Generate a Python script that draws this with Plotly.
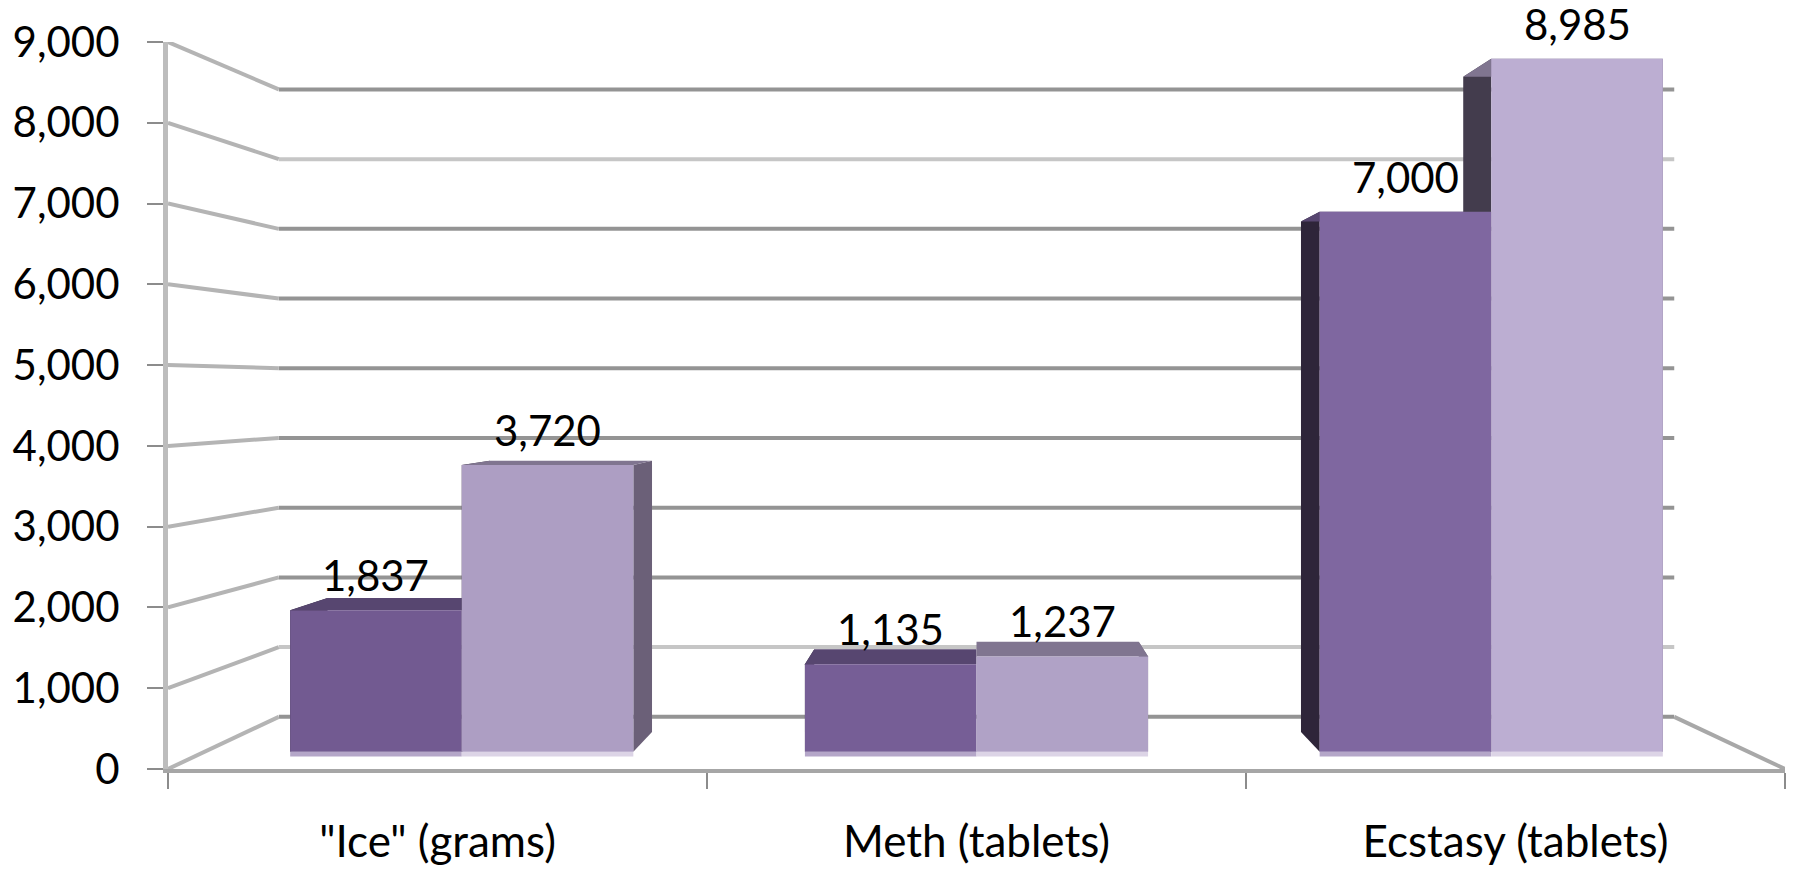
import plotly.graph_objects as go

# ---------------- data ----------------
CATEGORIES = ['"Ice" (grams)', 'Meth (tablets)', 'Ecstasy (tablets)']
SERIES_A = [1837, 1135, 7000]
SERIES_B = [3720, 1237, 8985]
Y_TICKS = [0, 1000, 2000, 3000, 4000, 5000, 6000, 7000, 8000, 9000]
Y_MAX = 9000

# ---------------- styling ----------------
FONT = "Lato"
FONT_SIZE = 42
CAT_FONT_SIZE = 44
COLORS_A = ["#725a91", "#765e96", "#7f67a0"]
COLORS_B = ["#ad9ec3", "#b0a2c6", "#bcaed2"]
BASE_STRIP = ["#b4a6c8", "#dcd4e6"]
TOP_FACE = ["#574670", "#807590"]
LEFT_FACE = ["#2e2539", "#433c4d"]
RIGHT_FACE = ["#4e4160", "#6b6078"]
GRID_DARK = "#949494"
GRID_LIGHT = "#c6c6c6"
LIGHT_GRID_VALUES = {1000, 8000}

# perspective model (front plane = main axes)
VP_X, VP_V = 1.0, 4715      # vanishing point in front-axis units
K_BAR_FRONT = 0.955         # bar front faces
K_BAR_BACK = 0.903          # bar back faces
K_WALL = 0.863              # back wall
BAR_GAP = 1 / 3
N_SERIES = 2
BAR_W = (1 - BAR_GAP) / N_SERIES
STRIP_DEPTH = 60            # light base strip under the bars (value units)


def toward_vp(x, v, k):
    return VP_X + k * (x - VP_X), VP_V + k * (v - VP_V)


X_RANGE = [-0.5, len(CATEGORIES) - 0.5]
Y_RANGE = [0, Y_MAX]
BAR_X_RANGE = [VP_X + (r - VP_X) / K_BAR_FRONT for r in X_RANGE]
BAR_Y_RANGE = [VP_V + (r - VP_V) / K_BAR_FRONT for r in Y_RANGE]

shapes = []
# back wall gridlines and left wall connectors
for v in Y_TICKS:
    col = GRID_LIGHT if v in LIGHT_GRID_VALUES else GRID_DARK
    wl = toward_vp(X_RANGE[0], v, K_WALL)
    wr = toward_vp(X_RANGE[1], v, K_WALL)
    shapes.append(dict(type="line", xref="x", yref="y", x0=wl[0], y0=wl[1],
                       x1=wr[0], y1=wr[1], line=dict(color=col, width=4),
                       layer="below"))
    shapes.append(dict(type="line", xref="x", yref="y", x0=X_RANGE[0], y0=v,
                       x1=wl[0], y1=wl[1], line=dict(color="#b4b4b4", width=4),
                       layer="below"))
# floor right edge
fr = toward_vp(X_RANGE[1], 0, K_WALL)
shapes.append(dict(type="line", xref="x", yref="y", x0=X_RANGE[1], y0=0,
                   x1=fr[0], y1=fr[1], line=dict(color="#a8a8a8", width=4),
                   layer="below"))


def poly(pts):
    return "M " + " L ".join(f"{x},{y}" for x, y in pts) + " Z"


annotations = []
# 3D faces of the bars + value labels
for s, values in enumerate([SERIES_A, SERIES_B]):
    for i, v in enumerate(values):
        bx0 = i - BAR_W + s * BAR_W
        bx1 = bx0 + BAR_W
        fl0 = toward_vp(bx0, 0, K_BAR_FRONT)
        fl1 = toward_vp(bx0, v, K_BAR_FRONT)
        fr1 = toward_vp(bx1, v, K_BAR_FRONT)
        fr0 = toward_vp(bx1, 0, K_BAR_FRONT)
        bl0 = toward_vp(bx0, 0, K_BAR_BACK)
        bl1 = toward_vp(bx0, v, K_BAR_BACK)
        br1 = toward_vp(bx1, v, K_BAR_BACK)
        br0 = toward_vp(bx1, 0, K_BAR_BACK)
        sl = toward_vp(bx0, -STRIP_DEPTH, K_BAR_FRONT)
        sr = toward_vp(bx1, -STRIP_DEPTH, K_BAR_FRONT)
        for pts, col in [([fl0, fl1, bl1, bl0], LEFT_FACE[s]),
                         ([fr0, fr1, br1, br0], RIGHT_FACE[s]),
                         ([fl1, fr1, br1, bl1], TOP_FACE[s]),
                         ([fl0, fr0, sr, sl], BASE_STRIP[s])]:
            shapes.append(dict(type="path", xref="x", yref="y", path=poly(pts),
                               fillcolor=col, line=dict(width=0), layer="below"))
        annotations.append(dict(x=bx0 + BAR_W / 2, y=v, xref="x2", yref="y2",
                                text=f"{v:,}", showarrow=False, yanchor="bottom",
                                yshift=8, font=dict(family=FONT, size=FONT_SIZE,
                                                    color="black")))

fig = go.Figure()
# invisible trace anchoring the front category axis
fig.add_trace(go.Scatter(x=CATEGORIES, y=[0] * len(CATEGORIES), mode="markers",
                         marker=dict(opacity=0), hoverinfo="skip",
                         showlegend=False, xaxis="x", yaxis="y"))
for vals, cols in [(SERIES_A, COLORS_A), (SERIES_B, COLORS_B)]:
    fig.add_trace(go.Bar(x=CATEGORIES, y=vals, xaxis="x2", yaxis="y2",
                         marker=dict(color=cols, line=dict(width=0)),
                         cliponaxis=False, showlegend=False))

fig.update_layout(
    width=1796, height=869,
    margin=dict(l=168, r=11, t=42, b=100, pad=0),
    paper_bgcolor="white", plot_bgcolor="white",
    font=dict(family=FONT, size=FONT_SIZE, color="black"),
    barmode="group", bargap=BAR_GAP, bargroupgap=0,
    shapes=shapes, annotations=annotations,
    xaxis=dict(type="category", categoryorder="array", categoryarray=CATEGORIES,
               range=X_RANGE, tickson="boundaries", ticks="outside", ticklen=16,
               tickwidth=2, tickcolor="#8c8c8c", showline=True, linecolor="#a6a6a6",
               linewidth=4, showgrid=False, zeroline=False, automargin=False,
               ticklabelstandoff=31, tickfont=dict(size=CAT_FONT_SIZE)),
    yaxis=dict(range=Y_RANGE, tickvals=Y_TICKS, tickformat=",", ticks="outside",
               ticklen=16, tickwidth=2, tickcolor="#8c8c8c", showline=True,
               linecolor="#bdbdbd", linewidth=5, showgrid=False, zeroline=False,
               automargin=False, ticklabelstandoff=19, tickfont=dict(size=FONT_SIZE)),
    xaxis2=dict(type="category", categoryorder="array", categoryarray=CATEGORIES,
                range=BAR_X_RANGE, overlaying="x", visible=False),
    yaxis2=dict(range=BAR_Y_RANGE, overlaying="y", visible=False),
)

fig.write_html("out.html", config={"displayModeBar": False},
               post_script="document.body.style.margin='0';document.body.style.overflow='hidden';")
